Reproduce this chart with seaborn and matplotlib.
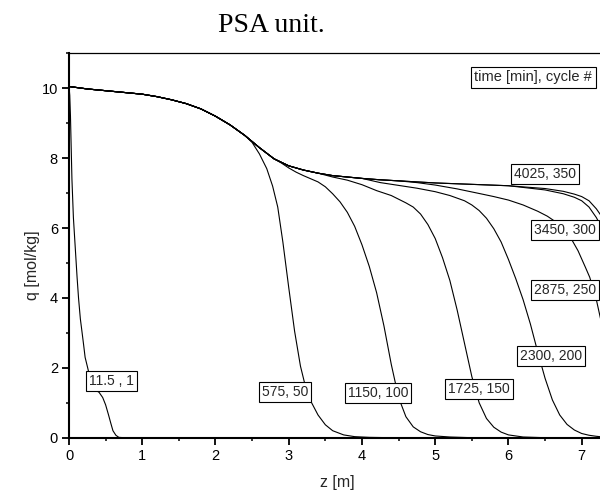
import numpy as np
import pandas as pd
import matplotlib
matplotlib.use("Agg")
import matplotlib.pyplot as plt
import seaborn as sns
from matplotlib.ticker import MultipleLocator

# ---- data ----
title = "PSA unit."
x_label = "z [m]"
y_label = "q [mol/kg]"
legend_title = "time [min], cycle #"

labels = ["11.5 , 1", "575, 50", "1150, 100", "1725, 150", "2300, 200",
          "2875, 250", "3450, 300", "4025, 350"]
label_z = [0.58, 2.95, 4.22, 5.60, 6.58, 6.77, 6.77, 6.50]
label_q = [1.63, 1.30, 1.29, 1.40, 2.33, 4.23, 5.94, 7.55]

# common upper profile (shared start of all curves except the first)
env_z = [0.0, 0.25, 0.5, 0.75, 1.0, 1.2, 1.4, 1.6, 1.8, 2.0, 2.2, 2.4, 2.6, 2.8,
         3.0, 3.2, 3.4, 3.6, 3.8, 4.0, 4.25, 4.5, 4.75, 5.0, 5.5, 6.0]
env_q = [10.05, 9.98, 9.93, 9.88, 9.83, 9.76, 9.67, 9.56, 9.41, 9.2, 8.95, 8.65, 8.3, 7.98,
         7.78, 7.66, 7.57, 7.5, 7.46, 7.42, 7.38, 7.35, 7.32, 7.29, 7.25, 7.21]

z_11 = [0.0, 0.01, 0.02, 0.04, 0.06, 0.085, 0.11, 0.13, 0.155, 0.175, 0.2, 0.22,
        0.255, 0.3, 0.37, 0.41, 0.46, 0.5, 0.54, 0.57, 0.6, 0.64, 0.68, 0.75, 7.3]
q_11 = [10.05, 9.8, 9.2, 7.4, 6.3, 5.45, 4.6, 4.0, 3.4, 3.07, 2.65, 2.3,
        2.0, 1.6, 1.35, 1.3, 1.15, 0.94, 0.65, 0.42, 0.2, 0.07, 0.01, 0.0, 0.0]

z_575 = env_z[:12] + [2.5, 2.6, 2.7, 2.78, 2.85, 2.92, 3.0, 3.08, 3.16, 3.23, 3.3,
                      3.4, 3.5, 3.6, 3.75, 3.9, 4.1, 4.4, 7.3]
q_575 = env_q[:12] + [8.45, 8.12, 7.7, 7.2, 6.6, 5.6, 4.3, 3.05, 2.05, 1.45, 1.05,
                      0.65, 0.37, 0.2, 0.08, 0.03, 0.01, 0.0, 0.0]

z_1150 = env_z[:14] + [2.9, 3.0, 3.1, 3.2, 3.3, 3.4, 3.5, 3.6, 3.7, 3.8, 3.9, 4.0, 4.1,
                       4.2, 4.3, 4.4, 4.5, 4.6, 4.7, 4.8, 4.9, 5.0, 5.2, 5.5, 7.3]
q_1150 = env_q[:14] + [7.86, 7.72, 7.6, 7.5, 7.41, 7.32, 7.18, 6.98, 6.75, 6.45, 6.05, 5.52, 4.9,
                       4.15, 3.2, 2.1, 1.15, 0.6, 0.31, 0.17, 0.09, 0.05, 0.02, 0.0, 0.0]

z_1725 = env_z[:17] + [3.6, 3.8, 4.0, 4.2, 4.4, 4.6, 4.7, 4.8, 4.9, 5.0, 5.1, 5.2, 5.3,
                       5.4, 5.5, 5.6, 5.7, 5.8, 5.9, 6.0, 6.2, 6.5, 7.3]
q_1725 = env_q[:17] + [7.46, 7.37, 7.24, 7.07, 6.93, 6.72, 6.6, 6.4, 6.1, 5.7, 5.15, 4.5, 3.65,
                       2.7, 1.75, 1.0, 0.55, 0.3, 0.16, 0.08, 0.02, 0.0, 0.0]

z_2300 = env_z[:20] + [4.25, 4.5, 4.75, 5.0, 5.2, 5.4, 5.5, 5.6, 5.7, 5.8, 5.9, 6.0, 6.1,
                       6.2, 6.3, 6.4, 6.5, 6.6, 6.7, 6.8, 6.9, 7.0, 7.1, 7.2, 7.3]
q_2300 = env_q[:20] + [7.3, 7.22, 7.14, 7.04, 6.93, 6.78, 6.66, 6.5, 6.28, 5.98, 5.6, 5.1, 4.55,
                       3.95, 3.25, 2.45, 1.7, 1.08, 0.65, 0.38, 0.22, 0.12, 0.07, 0.04, 0.02]

z_2875 = env_z[:22] + [4.75, 5.0, 5.3, 5.62, 5.8, 6.0, 6.2, 6.4, 6.53, 6.65, 6.75, 6.85,
                       6.95, 7.05, 7.11, 7.2, 7.3]
q_2875 = env_q[:22] + [7.3, 7.23, 7.12, 6.98, 6.9, 6.8, 6.66, 6.48, 6.34, 6.17, 5.97, 5.72,
                       5.35, 4.88, 4.59, 3.95, 3.0]

z_3450 = env_z + [6.25, 6.5, 6.75, 6.9, 7.0, 7.1, 7.2, 7.3]
q_3450 = env_q + [7.15, 7.09, 6.98, 6.88, 6.78, 6.6, 6.3, 5.9]

z_4025 = env_z + [6.25, 6.5, 6.75, 6.9, 7.0, 7.1, 7.2, 7.3]
q_4025 = env_q + [7.17, 7.13, 7.05, 6.97, 6.9, 6.78, 6.55, 6.25]

curves_z = [z_11, z_575, z_1150, z_1725, z_2300, z_2875, z_3450, z_4025]
curves_q = [q_11, q_575, q_1150, q_1725, q_2300, q_2875, q_3450, q_4025]

frames = []
for lab, zz, qq in zip(labels, curves_z, curves_q):
    frames.append(pd.DataFrame({"z": zz, "q": qq, "curve": lab}))
df = pd.concat(frames, ignore_index=True)

# ---- figure ----
sns.set_style("ticks")
plt.rcParams["font.family"] = ["Liberation Sans", "DejaVu Sans"]

W, H = 600, 495
fig = plt.figure(figsize=(6.0, 4.95), dpi=100)
ax = fig.add_axes([69 / W, (H - 437.7) / H, (W - 69) / W, (437.7 - 53.3) / H])

sns.lineplot(data=df, x="z", y="q", units="curve", estimator=None, sort=False,
             color="black", linewidth=0.8, ax=ax, legend=False)

ax.set_xlim(0, 7.25)
ax.set_ylim(0, 11)
ax.xaxis.set_major_locator(MultipleLocator(1))
ax.xaxis.set_minor_locator(MultipleLocator(0.5))
ax.yaxis.set_major_locator(MultipleLocator(2))
ax.yaxis.set_minor_locator(MultipleLocator(1))
ax.tick_params(which="major", direction="out", length=5, width=1.3, labelsize=10.5, pad=3, colors="black")
ax.tick_params(which="minor", direction="out", length=2.5, width=1.3)
ax.tick_params(top=False, right=False, which="both")

for s in ["left", "bottom"]:
    ax.spines[s].set_linewidth(1.5)
    ax.spines[s].set_color("black")
ax.spines["top"].set_linewidth(0.9)
ax.spines["top"].set_color("black")
ax.spines["top"].set_visible(True)
ax.spines["right"].set_visible(False)

ax.set_xlabel("")
ax.set_ylabel("")
fig.text(337 / W, 1 - 482 / H, x_label, ha="center", va="center", fontsize=11.5)
fig.text(33 / W, 1 - 265 / H, y_label, ha="center", va="center", rotation=90, fontsize=11.5)

fig.text(271.5 / W, 1 - 32 / H, title, ha="center", va="baseline", fontsize=20,
         family=["Liberation Serif", "DejaVu Serif"], color="black")

box = dict(boxstyle="square,pad=0.22", fc="white", ec="black", lw=0.8)
for lab, lz, lq in zip(labels, label_z, label_q):
    ax.text(lz, lq, lab, ha="center", va="center", fontsize=10, bbox=box, zorder=5)

ax.text(6.34, 10.31, legend_title, ha="center", va="center", fontsize=10.5,
        bbox=dict(boxstyle="square,pad=0.25", fc="white", ec="black", lw=0.8), zorder=5)

fig.savefig("out.png", dpi=100)
